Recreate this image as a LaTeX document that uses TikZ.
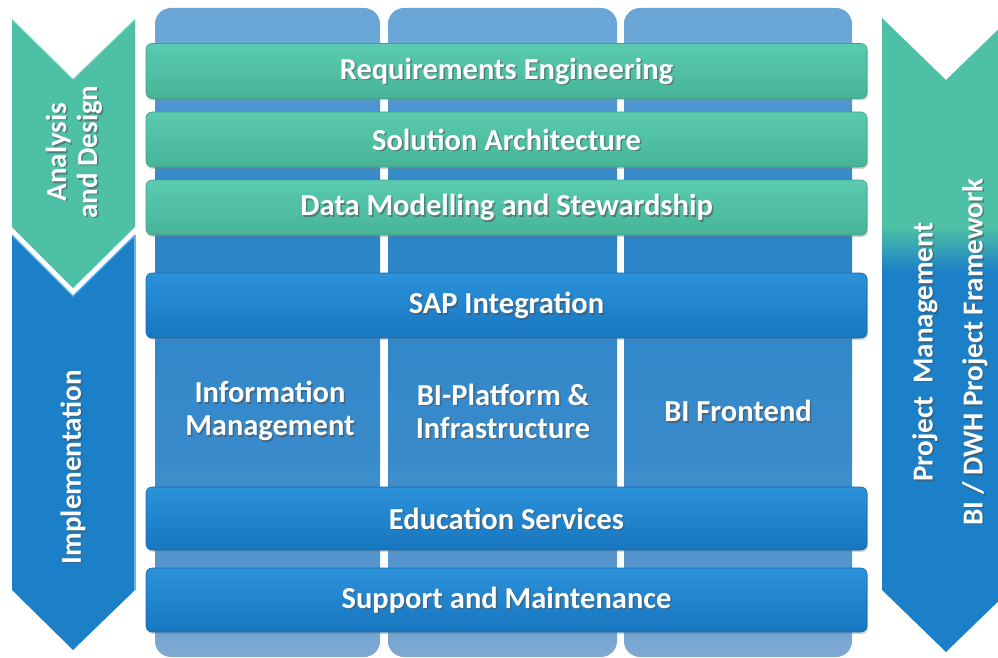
\documentclass[tikz,border=0pt]{standalone}
\usepackage{fontspec}
\setmainfont{Carlito}
\usetikzlibrary{calc,shadows}
\definecolor{teal1}{HTML}{5ACBB0}
\definecolor{teal2}{HTML}{47B497}
\definecolor{blue1}{HTML}{2C92DA}
\definecolor{blue2}{HTML}{1776BE}
\definecolor{coltop}{HTML}{6AA6D6}
\definecolor{colmid3}{HTML}{4590CE}
\definecolor{colmid}{HTML}{2A84C6}
\definecolor{colmid2}{HTML}{3A8BCB}
\definecolor{colb2}{HTML}{5A98CE}
\definecolor{colbot}{HTML}{80AAD3}
\definecolor{arteal}{HTML}{4EC0A5}
\definecolor{arblue}{HTML}{1B80C8}
\pgfdeclareverticalshading{colshade}{100bp}{color(0bp)=(colbot); color(25bp)=(colbot); color(31bp)=(colb2); color(40bp)=(colmid2); color(58bp)=(colmid); color(66bp)=(colmid3); color(72bp)=(coltop); color(100bp)=(coltop)}
\pgfdeclareverticalshading{pmshade}{100bp}{color(0bp)=(arblue); color(55bp)=(arblue); color(58.5bp)=(arteal); color(100bp)=(arteal)}
\tikzset{
  bar/.style={rectangle, rounded corners=6pt, minimum width=721pt, inner sep=0pt,
    drop shadow={shadow xshift=1pt, shadow yshift=-2pt, opacity=0.35}},
  tealbar/.style={bar, top color=teal1, bottom color=teal2, draw=teal2!90!black, line width=0.6pt},
  bluebar/.style={bar, top color=blue1, bottom color=blue2, draw=blue2!90!black, line width=0.6pt},
  colbox/.style={shading=colshade, rounded corners=16pt},
  txt/.style={text=white, font=\bfseries\fontsize{30.5}{33}\selectfont, align=center, inner sep=0pt},
  arrowtxt/.style={text=white, font=\bfseries\fontsize{29}{31}\selectfont, align=center, inner sep=0pt, rotate=90},
}
\newcommand\stext[4]{%
  \node[#3, text=black!70, opacity=0.55] (#1s) at ($(#2)+(1.5,1.5)$) {#4};
  \node[#3] (#1) at (#2) {#4};}
\begin{document}
\begin{tikzpicture}[x=1pt,y=-1pt]
\useasboundingbox (0,0) rectangle (998,658);
% columns
\shade[colbox] (155,8) rectangle (380,657);
\shade[colbox] (388,8) rectangle (617,657);
\shade[colbox] (624,8) rectangle (852,657);
% left arrows
\fill[arteal] (12,19) -- (73,79) -- (135,19) -- (135,227) -- (73,288) -- (12,227) -- cycle;
\draw[white!60!arteal, line width=1pt] (12,19) -- (73,79) -- (135,19);
\fill[arblue] (12,235) -- (73,296) -- (135,235) -- (135,590) -- (73,650) -- (12,590) -- cycle;
\draw[blue1!70!white, line width=1.2pt] (135,235) -- (135,590);
\draw[blue1!70!white, line width=1.2pt] (12,235) -- (73,296) -- (135,235);
% right arrow
\shade[shading=pmshade] (882,18) -- (946,80) -- (1010,18) -- (1010,590) -- (946,652) -- (882,590) -- cycle;
% teal bars
\node[tealbar, minimum height=55pt] (req) at (506.5,71) {};
\node[tealbar, minimum height=55pt] (sol) at (506.5,139.5) {};
\node[tealbar, minimum height=55pt] (dat) at (506.5,207.5) {};
% blue bars
\node[bluebar, minimum height=65pt] (sap) at (506.5,305.5) {};
\node[bluebar, minimum height=63pt] (edu) at (506.5,518.5) {};
\node[bluebar, minimum height=64pt] (sup) at (506.5,600) {};
% texts
\stext{treq}{req.center}{txt}{Requirements Engineering}
\stext{tsol}{sol.center}{txt}{Solution Architecture}
\stext{tdat}{dat.center}{txt}{Data Modelling and Stewardship}
\stext{tsap}{sap.center}{txt}{SAP Integration}
\stext{tedu}{edu.center}{txt}{Education Services}
\stext{tsup}{sup.center}{txt}{Support and Maintenance}
\stext{tim}{270,411}{txt}{Information\\Management}
\stext{tbi}{503,411}{txt}{BI-Platform \&\\Infrastructure}
\stext{tfe}{738,411}{txt}{BI Frontend}
\stext{tad}{74,152}{arrowtxt}{Analysis\\and Design}
\stext{timp}{73,467}{arrowtxt}{Implementation}
\stext{tpm}{925,352}{arrowtxt}{Project~~Management}
\stext{tfw}{975,352}{arrowtxt}{BI / DWH Project Framework}
\end{tikzpicture}
\end{document}
